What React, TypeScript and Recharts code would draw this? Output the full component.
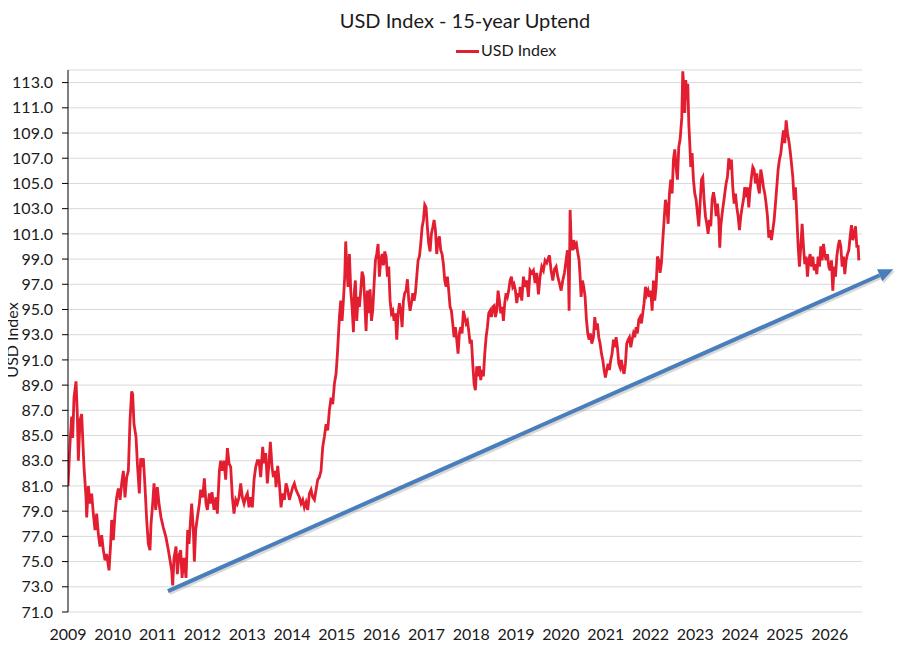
import React from 'react'
import { LineChart, Line, XAxis, YAxis, CartesianGrid, ReferenceLine } from 'recharts'

// decimal year of each reading
const years = [
    2009.000, 2009.045, 2009.082, 2009.104, 2009.134, 2009.179, 2009.208, 2009.231, 2009.268, 2009.305,
    2009.327, 2009.357, 2009.402, 2009.417, 2009.454, 2009.491, 2009.528, 2009.565, 2009.603, 2009.640,
    2009.677, 2009.714, 2009.751, 2009.789, 2009.826, 2009.863, 2009.915, 2009.952, 2009.975, 2010.012,
    2010.049, 2010.086, 2010.124, 2010.161, 2010.198, 2010.235, 2010.272, 2010.310, 2010.347, 2010.384,
    2010.421, 2010.443, 2010.473, 2010.518, 2010.548, 2010.592, 2010.622, 2010.659, 2010.682, 2010.719,
    2010.756, 2010.793, 2010.830, 2010.853, 2010.890, 2010.920, 2010.957, 2010.994, 2011.031, 2011.076,
    2011.128, 2011.188, 2011.240, 2011.277, 2011.314, 2011.336, 2011.366, 2011.411, 2011.440, 2011.478,
    2011.515, 2011.545, 2011.589, 2011.634, 2011.671, 2011.701, 2011.738, 2011.760, 2011.798, 2011.820,
    2011.850, 2011.887, 2011.932, 2011.961, 2012.006, 2012.043, 2012.080, 2012.110, 2012.155, 2012.185,
    2012.214, 2012.259, 2012.304, 2012.333, 2012.378, 2012.408, 2012.445, 2012.482, 2012.519, 2012.557,
    2012.594, 2012.631, 2012.668, 2012.705, 2012.743, 2012.780, 2012.817, 2012.854, 2012.891, 2012.929,
    2012.966, 2013.003, 2013.040, 2013.077, 2013.115, 2013.152, 2013.189, 2013.226, 2013.263, 2013.301,
    2013.345, 2013.375, 2013.412, 2013.449, 2013.479, 2013.516, 2013.554, 2013.583, 2013.621, 2013.643,
    2013.680, 2013.717, 2013.754, 2013.792, 2013.829, 2013.866, 2013.903, 2013.940, 2013.978, 2014.015,
    2014.052, 2014.089, 2014.126, 2014.164, 2014.201, 2014.238, 2014.275, 2014.312, 2014.350, 2014.387,
    2014.424, 2014.461, 2014.499, 2014.536, 2014.573, 2014.610, 2014.647, 2014.685, 2014.722, 2014.759,
    2014.796, 2014.833, 2014.871, 2014.908, 2014.945, 2014.982,
    2015.013, 2015.057, 2015.087, 2015.117, 2015.146, 2015.176, 2015.198, 2015.221, 2015.250, 2015.280,
    2015.310, 2015.340, 2015.370, 2015.392, 2015.414, 2015.444, 2015.474, 2015.504, 2015.533, 2015.563,
    2015.593, 2015.623, 2015.652, 2015.682, 2015.712, 2015.742, 2015.772, 2015.801, 2015.831, 2015.861,
    2015.890, 2015.920, 2015.950, 2015.980, 2016.010, 2016.039, 2016.069, 2016.099, 2016.129, 2016.158,
    2016.188, 2016.218, 2016.248, 2016.277, 2016.307, 2016.337, 2016.367, 2016.397, 2016.426, 2016.456,
    2016.486, 2016.515, 2016.545, 2016.575, 2016.605, 2016.634, 2016.664, 2016.694, 2016.724, 2016.753,
    2016.783, 2016.813, 2016.843, 2016.872, 2016.902, 2016.932, 2016.962, 2016.991, 2017.021, 2017.051,
    2017.081, 2017.110, 2017.140, 2017.170, 2017.200, 2017.229, 2017.259, 2017.289, 2017.318, 2017.348,
    2017.378, 2017.408, 2017.438, 2017.467, 2017.497, 2017.527, 2017.557, 2017.586, 2017.616, 2017.646,
    2017.676, 2017.705, 2017.735, 2017.765, 2017.795, 2017.824, 2017.854, 2017.884, 2017.914, 2017.943,
    2017.973, 2018.003, 2018.033, 2018.063, 2018.092, 2018.122, 2018.152, 2018.182, 2018.211, 2018.241,
    2018.271, 2018.301, 2018.331, 2018.360, 2018.390, 2018.420, 2018.450, 2018.479, 2018.509, 2018.539,
    2018.569, 2018.598, 2018.628, 2018.658, 2018.688, 2018.717, 2018.747, 2018.777, 2018.807, 2018.836,
    2018.866, 2018.896, 2018.926, 2018.955, 2018.985, 2019.015, 2019.045, 2019.075,
    2019.089, 2019.127, 2019.164, 2019.201, 2019.238, 2019.275, 2019.313, 2019.350, 2019.387, 2019.424,
    2019.461, 2019.499, 2019.536, 2019.573, 2019.610, 2019.647, 2019.685, 2019.722, 2019.744, 2019.781,
    2019.819, 2019.856, 2019.893, 2019.930, 2019.967, 2020.005, 2020.042, 2020.079, 2020.116, 2020.146,
    2020.168, 2020.183, 2020.206, 2020.228, 2020.258, 2020.287, 2020.317, 2020.347, 2020.377, 2020.406,
    2020.429, 2020.451, 2020.481, 2020.510, 2020.540, 2020.570, 2020.600, 2020.630, 2020.659, 2020.689,
    2020.726, 2020.756, 2020.786, 2020.815, 2020.845, 2020.875, 2020.905, 2020.935, 2020.964, 2020.994,
    2021.024, 2021.054, 2021.083, 2021.113, 2021.143, 2021.173, 2021.202, 2021.232, 2021.262, 2021.292,
    2021.321, 2021.351, 2021.381, 2021.411, 2021.440, 2021.470, 2021.500, 2021.530, 2021.560, 2021.589,
    2021.619, 2021.649, 2021.679, 2021.708, 2021.738, 2021.768, 2021.798, 2021.827, 2021.857, 2021.887,
    2021.917, 2021.946, 2021.976, 2022.006, 2022.036, 2022.066, 2022.095, 2022.125, 2022.155, 2022.185,
    2022.214, 2022.244, 2022.274, 2022.304, 2022.333, 2022.363, 2022.393, 2022.423, 2022.452, 2022.482,
    2022.512, 2022.542, 2022.571, 2022.601, 2022.631, 2022.661,
    2022.698, 2022.720, 2022.743, 2022.765, 2022.787, 2022.809, 2022.832, 2022.854, 2022.876, 2022.899,
    2022.928, 2022.958, 2022.988, 2023.018, 2023.048, 2023.077, 2023.107, 2023.137, 2023.167, 2023.196,
    2023.226, 2023.256, 2023.286, 2023.315, 2023.345, 2023.375, 2023.405, 2023.434, 2023.464, 2023.494,
    2023.524, 2023.546, 2023.568, 2023.598, 2023.628, 2023.658, 2023.687, 2023.717, 2023.747, 2023.777,
    2023.806, 2023.836, 2023.866, 2023.896, 2023.926, 2023.955, 2023.985, 2024.015, 2024.045, 2024.074,
    2024.104, 2024.134, 2024.164, 2024.193, 2024.223, 2024.253, 2024.283, 2024.312, 2024.342, 2024.372,
    2024.402, 2024.431, 2024.461, 2024.491, 2024.521, 2024.550, 2024.580, 2024.610, 2024.640, 2024.670,
    2024.699, 2024.729, 2024.759, 2024.789, 2024.818, 2024.848, 2024.878, 2024.908, 2024.938, 2024.967,
    2024.997, 2025.027, 2025.057, 2025.086, 2025.116, 2025.146, 2025.176, 2025.205, 2025.235, 2025.265,
    2025.295, 2025.324, 2025.354, 2025.384, 2025.414, 2025.443, 2025.473, 2025.503, 2025.533, 2025.562,
    2025.592, 2025.622, 2025.652, 2025.681, 2025.711, 2025.741, 2025.771, 2025.800, 2025.830, 2025.860,
    2025.890, 2025.919, 2025.949, 2025.979, 2026.009, 2026.039, 2026.068, 2026.098, 2026.128, 2026.158,
    2026.187, 2026.217, 2026.247, 2026.277, 2026.307, 2026.336, 2026.366, 2026.396, 2026.426, 2026.456,
    2026.485, 2026.515, 2026.545, 2026.575, 2026.604, 2026.634, 2026.649,
]

const usdIndex = [
    81.0, 84.4, 86.5, 84.8, 88.0, 89.3, 86.7, 83.0, 86.2, 86.7,
    84.9, 82.5, 80.1, 78.5, 81.0, 79.6, 80.4, 78.8, 77.5, 78.8,
    77.2, 76.2, 77.1, 75.9, 75.1, 75.6, 74.3, 76.4, 78.3, 76.7,
    78.8, 80.1, 80.8, 79.9, 81.2, 82.2, 80.1, 81.7, 82.2, 86.2,
    88.5, 88.3, 85.9, 84.9, 82.8, 80.4, 83.2, 82.5, 83.2, 80.9,
    78.3, 76.4, 75.9, 78.0, 79.6, 81.2, 79.1, 80.9, 79.6, 78.5,
    77.7, 76.9, 75.9, 75.1, 74.3, 73.1, 75.3, 76.2, 74.0, 75.5,
    75.9, 73.7, 75.3, 73.7, 77.5, 76.4, 78.5, 79.6, 77.5, 75.0,
    77.5, 78.5, 79.6, 80.7, 80.1, 81.6, 79.6, 79.1, 80.4, 79.6,
    80.5, 79.1, 80.1, 78.8, 82.2, 83.0, 82.2, 83.0, 81.5, 84.0,
    82.8, 82.5, 80.1, 78.8, 79.9, 79.6, 80.1, 81.2, 80.1, 79.6,
    80.1, 80.4, 79.3, 80.1, 79.3, 81.5, 82.5, 83.0, 83.0, 81.7,
    84.1, 82.8, 83.6, 81.2, 82.5, 84.5, 82.5, 81.7, 82.2, 80.9,
    82.6, 81.2, 79.3, 80.4, 79.9, 81.2, 80.7, 79.9, 80.4, 80.9,
    81.2, 80.7, 80.4, 80.1, 79.6, 79.9, 79.3, 79.7, 79.1, 80.4,
    80.7, 80.1, 79.9, 80.7, 81.5, 81.7, 82.2, 84.1, 84.9, 85.9,
    85.4, 87.0, 88.0, 87.5, 89.1, 89.9,
    91.5, 94.4, 95.7, 94.1, 95.7, 97.6, 100.4, 98.4, 96.8, 99.4,
    96.5, 95.2, 93.2, 96.5, 97.3, 94.1, 96.0, 95.2, 96.5, 98.0,
    97.6, 95.7, 93.3, 96.5, 94.7, 96.6, 94.1, 94.9, 97.0, 98.9,
    99.4, 100.2, 97.6, 98.9, 99.4, 98.5, 99.6, 99.2, 97.6, 98.4,
    95.7, 94.7, 94.9, 94.1, 94.7, 92.6, 94.7, 95.5, 94.9, 93.6,
    95.7, 96.3, 96.5, 97.4, 95.7, 94.9, 95.5, 96.3, 95.7, 96.3,
    97.6, 98.9, 99.2, 100.2, 101.5, 102.1, 103.3, 103.1, 101.5, 100.2,
    99.6, 101.0, 101.5, 102.1, 101.3, 99.4, 100.5, 100.8, 99.7, 99.4,
    98.6, 97.3, 96.8, 97.6, 96.5, 95.2, 94.9, 93.9, 92.8, 93.6,
    92.6, 91.5, 93.1, 93.6, 93.1, 94.9, 94.4, 93.9, 94.1, 93.3,
    92.3, 92.6, 90.7, 89.1, 88.6, 90.5, 89.7, 90.5, 89.4, 90.2,
    89.7, 91.5, 92.8, 93.6, 94.7, 94.9, 94.4, 95.2, 95.3, 94.4,
    94.9, 96.5, 95.7, 94.7, 95.2, 94.1, 95.5, 96.3, 96.0, 96.5,
    97.3, 97.6, 96.8, 97.0, 96.5, 95.5, 96.3, 96.0,
    96.8, 95.7, 97.6, 96.8, 97.3, 96.0, 98.1, 97.9, 98.1, 97.1,
    97.9, 96.2, 97.6, 98.4, 98.1, 98.9, 98.7, 99.1, 99.3, 98.1,
    97.3, 98.2, 98.4, 97.6, 97.1, 96.5, 97.3, 97.9, 98.9, 99.7,
    97.9, 94.9, 102.9, 100.5, 99.7, 100.5, 100.0, 100.2, 99.5, 98.9,
    97.6, 96.0, 97.3, 96.8, 96.0, 94.2, 93.1, 92.6, 93.1, 92.3,
    92.8, 94.4, 93.4, 93.9, 92.8, 92.3, 91.5, 91.0, 90.2, 89.6,
    90.2, 90.7, 90.2, 91.0, 91.5, 92.6, 92.0, 92.8, 92.0, 90.7,
    90.4, 91.0, 90.2, 89.9, 90.7, 92.3, 92.6, 92.8, 92.0, 92.6,
    93.1, 92.8, 93.6, 93.1, 94.2, 94.4, 93.9, 94.7, 95.5, 96.8,
    96.2, 96.5, 96.0, 96.5, 94.9, 97.3, 95.7, 96.8, 99.2, 98.9,
    97.9, 98.7, 100.5, 102.1, 103.7, 103.2, 101.8, 104.2, 105.3, 104.2,
    106.9, 107.7, 106.3, 105.3, 107.9, 108.5,
    110.2, 113.9, 112.7, 110.6, 113.2, 111.6, 112.9, 109.8, 108.2, 106.3,
    107.4, 105.3, 104.2, 103.7, 102.6, 101.6, 103.4, 105.3, 105.5, 103.7,
    102.4, 101.8, 101.0, 102.1, 101.6, 103.7, 104.3, 103.7, 102.4, 103.4,
    102.1, 99.9, 101.6, 102.6, 103.4, 104.2, 105.0, 105.5, 107.0, 106.1,
    106.9, 104.7, 103.4, 104.2, 103.1, 102.4, 101.3, 102.4, 103.1, 103.7,
    104.7, 103.9, 104.7, 103.1, 104.5, 105.5, 106.3, 106.1, 105.0, 105.8,
    104.7, 104.2, 106.1, 105.5, 104.7, 104.2, 103.4, 102.4, 100.7, 101.3,
    100.5, 101.3, 102.1, 103.4, 104.7, 106.1, 106.9, 107.4, 108.4, 109.2,
    108.2, 110.0, 109.0, 108.4, 107.6, 106.6, 105.5, 103.7, 104.7, 102.4,
    100.0, 98.4, 100.0, 101.8, 100.0, 98.6, 99.2, 97.6, 98.9, 99.4,
    98.4, 99.2, 98.1, 98.6, 97.8, 99.2, 98.4, 100.0, 98.9, 100.2,
    99.4, 98.9, 99.4, 98.4, 98.1, 98.9, 96.5, 98.4, 97.6, 99.2,
    100.0, 100.5, 100.0, 98.4, 99.2, 97.8, 98.9, 99.4, 99.7, 100.8,
    101.7, 100.5, 101.0, 101.6, 100.0, 100.0, 98.9,
]

const yearTicks = [2009, 2010, 2011, 2012, 2013, 2014, 2015, 2016, 2017, 2018, 2019, 2020, 2021, 2022, 2023, 2024, 2025, 2026]
const valueTicks = [71, 73, 75, 77, 79, 81, 83, 85, 87, 89, 91, 93, 95, 97, 99, 101, 103, 105, 107, 109, 111, 113]

// hand-drawn uptrend arrow, in data units
const trendStart = { x: 2011.23, y: 72.66 }
const trendEnd = { x: 2027.42, y: 98.2 }

const chartData = years.map((x, i) => ({ x, usd: usdIndex[i] }))

const RED = '#E31E30'
const BLUE = '#4A7EBB'

function TrendArrow(props: any) {
    const { x1, y1, x2, y2 } = props
    if ([x1, y1, x2, y2].some(v => typeof v !== 'number' || isNaN(v))) return null
    const ang = Math.atan2(y2 - y1, x2 - x1)
    const cos = Math.cos(ang)
    const sin = Math.sin(ang)
    const headLen = 15
    const headHalf = 6.5
    const bx = x2 - headLen * cos
    const by = y2 - headLen * sin
    const pts = `${x2},${y2} ${bx - headHalf * sin},${by + headHalf * cos} ${bx + headHalf * sin},${by - headHalf * cos}`
    const shadowPts = `${x2 + 1.5},${y2 + 2} ${bx - headHalf * sin + 1.5},${by + headHalf * cos + 2} ${bx + headHalf * sin + 1.5},${by - headHalf * cos + 2}`
    return (
        <g>
            <line x1={x1 + 1.5} y1={y1 + 2} x2={bx + 1.5} y2={by + 2} stroke="rgba(0,0,0,0.15)" strokeWidth={4} />
            <polygon points={shadowPts} fill="rgba(0,0,0,0.15)" />
            <line x1={x1} y1={y1} x2={bx} y2={by} stroke={BLUE} strokeWidth={4} />
            <polygon points={pts} fill={BLUE} />
        </g>
    )
}

export default function App() {
    return (
        <div style={{ position: 'relative', width: 897, height: 641, fontFamily: 'Lato, sans-serif', color: '#1a1a1a' }}>
            <div style={{ position: 'absolute', left: 0, top: 0, width: 914, textAlign: 'center', fontSize: 20, lineHeight: '24px' }}>
                USD Index - 15-year Uptend
            </div>
            <div style={{ position: 'absolute', left: 448, top: 41.5, width: 23, height: 3, background: RED }} />
            <div style={{ position: 'absolute', left: 473, top: 31.5, fontSize: 16, lineHeight: '20px', whiteSpace: 'nowrap' }}>
                USD Index
            </div>
            <div
                style={{
                    position: 'absolute',
                    left: 4,
                    top: 332,
                    fontSize: 16,
                    lineHeight: '20px',
                    whiteSpace: 'nowrap',
                    transform: 'translate(-50%, -50%) rotate(-90deg)',
                }}
            >
                USD Index
            </div>
            <LineChart width={897} height={641} data={chartData} margin={{ top: 62, right: 43, bottom: 0, left: 0 }}>
                <CartesianGrid vertical={false} stroke="#D9D9D9" />
                <XAxis
                    dataKey="x"
                    type="number"
                    domain={[2009, 2026.72]}
                    ticks={yearTicks}
                    allowDataOverflow
                    axisLine={false}
                    tickLine={false}
                    tickSize={0}
                    tickMargin={17}
                    height={37}
                    tick={{ fontSize: 16, fill: '#1a1a1a' }}
                    interval={0}
                />
                <YAxis
                    type="number"
                    domain={[71, 114]}
                    ticks={valueTicks}
                    allowDataOverflow
                    width={60}
                    axisLine={{ stroke: '#000' }}
                    tickLine={{ stroke: '#000' }}
                    tickSize={6}
                    tickMargin={9}
                    tickFormatter={(v: number) => v.toFixed(1)}
                    tick={{ fontSize: 16, fill: '#1a1a1a' }}
                    interval={0}
                />
                <Line
                    type="linear"
                    dataKey="usd"
                    stroke={RED}
                    strokeWidth={2.8}
                    dot={false}
                    activeDot={false}
                    isAnimationActive={false}
                />
                <ReferenceLine
                    segment={[trendStart, trendEnd]}
                    ifOverflow="visible"
                    shape={TrendArrow}
                />
            </LineChart>
        </div>
    )
}
